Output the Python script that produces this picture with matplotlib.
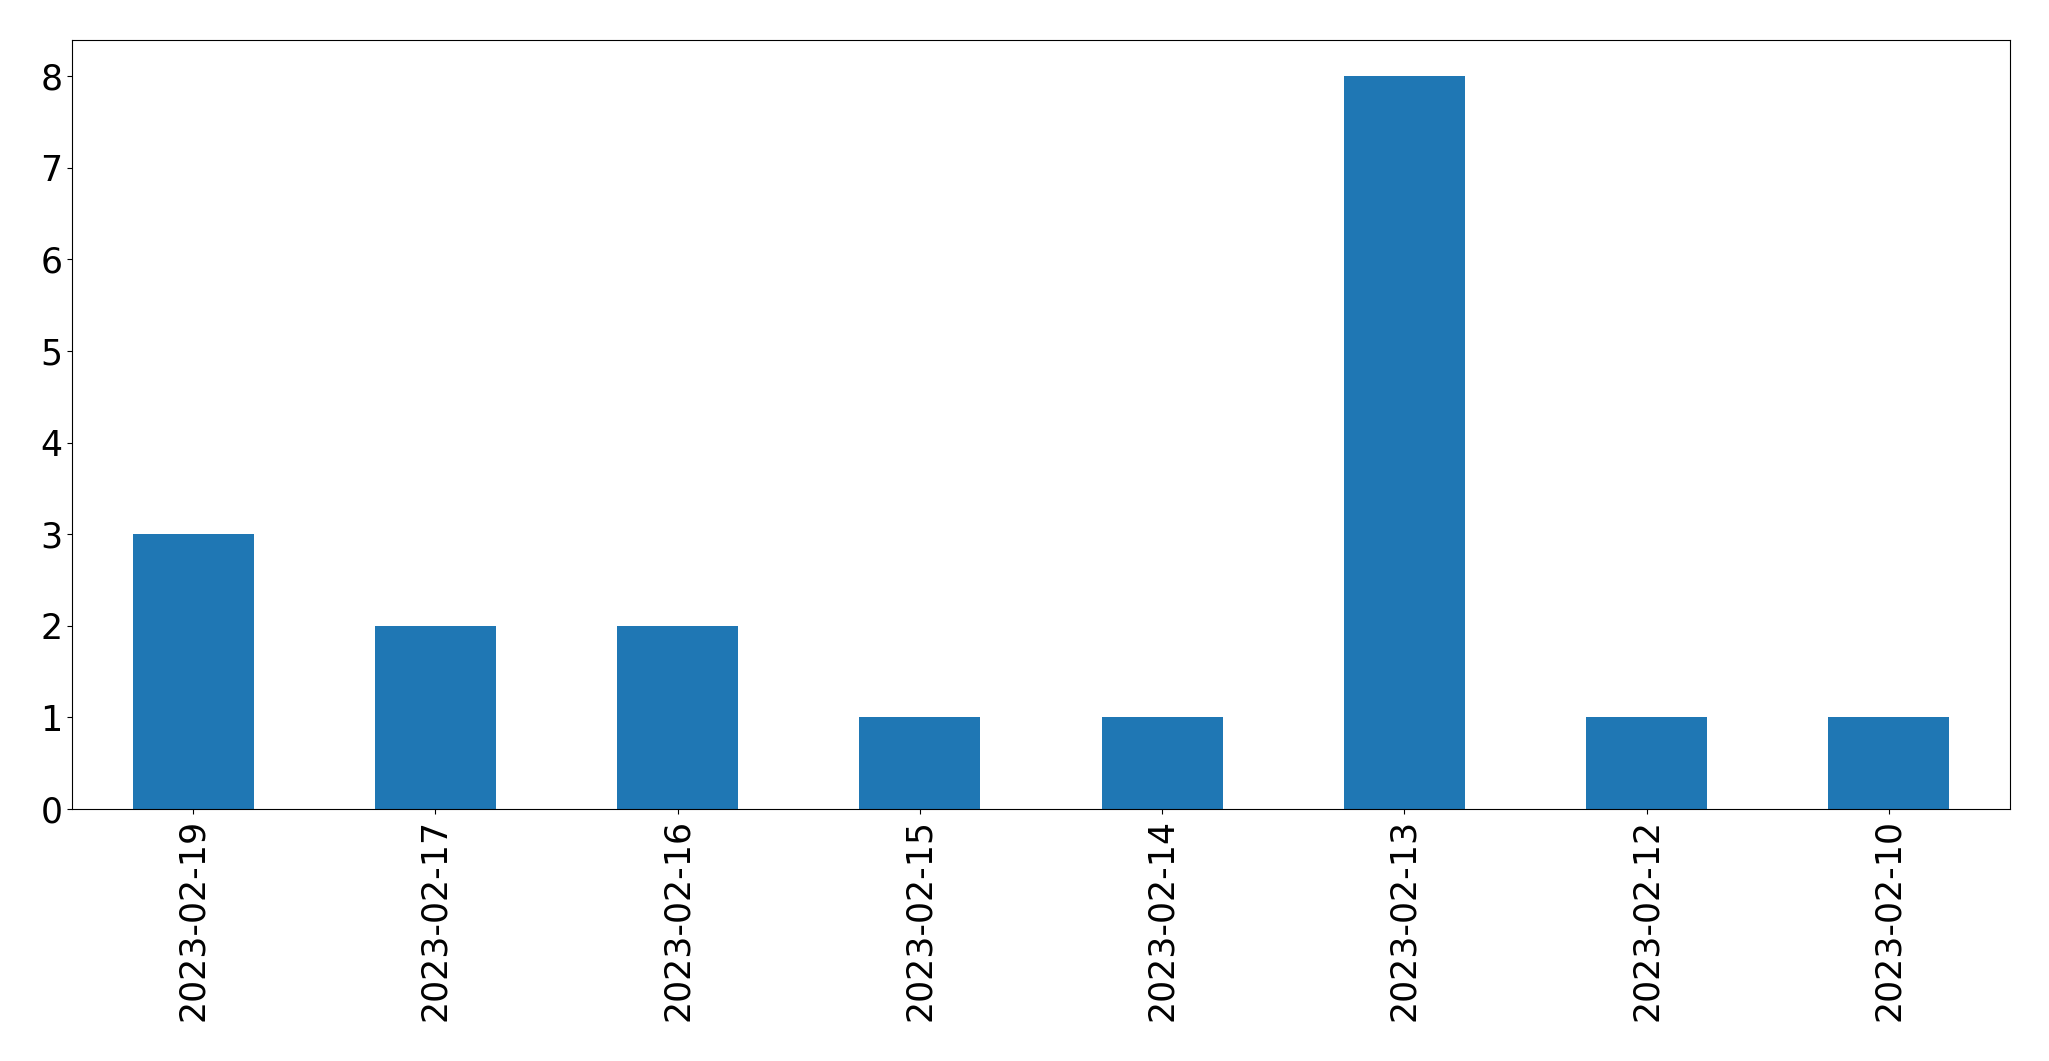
import matplotlib
matplotlib.use("Agg")
import matplotlib.pyplot as plt
import numpy as np

# Daten: Anzahl pro Datum
dates = ['2023-02-19', '2023-02-17', '2023-02-16', '2023-02-15',
         '2023-02-14', '2023-02-13', '2023-02-12', '2023-02-10']
counts = [3, 2, 2, 1, 1, 8, 1, 1]

fig = plt.figure(figsize=(20.49, 10.61), dpi=100)
ax = fig.add_axes([72 / 2049, 1 - 809 / 1061, (2010 - 72) / 2049, (809 - 39.5) / 1061])

x = np.arange(len(dates))
ax.bar(x, counts, width=0.5, color='#1f77b4')
ax.set_xlim(-0.5, len(dates) - 0.5)
ax.set_ylim(0, 8.4)
ax.set_xticks(x)
ax.set_xticklabels(dates, rotation=90)
ax.tick_params(axis='both', labelsize=25)

fig.savefig("out.png", dpi=100)
